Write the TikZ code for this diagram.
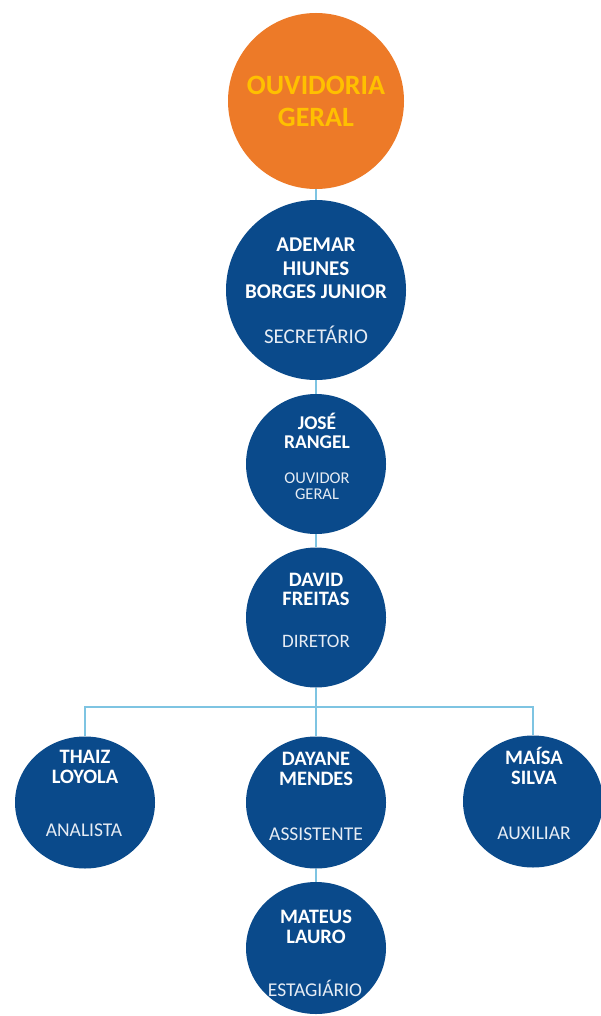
\documentclass[tikz,border=0pt]{standalone}
\usepackage{fontspec}
\setmainfont{Carlito}
\usetikzlibrary{shapes.geometric}
\definecolor{chartblue}{HTML}{0A4A8B}
\definecolor{chartorange}{HTML}{ED7A28}
\definecolor{chartgold}{HTML}{FFC000}
\definecolor{linkblue}{HTML}{7EC4E2}
\definecolor{rolegray}{HTML}{E6ECF4}

\begin{document}
\begin{tikzpicture}[
    x=1pt, y=-1pt,
    bluecircle/.style={circle, fill=chartblue, inner sep=0pt},
    lowunit/.style={ellipse, fill=chartblue, inner sep=0pt,
      minimum width=140pt, minimum height=132pt},
    persname/.style={text=white, align=center, inner sep=0pt},
    roletext/.style={text=rolegray, align=center, inner sep=0pt, anchor=base},
    link/.style={draw=linkblue, line width=2pt}
  ]
  \useasboundingbox (0,0) rectangle (600,1016);
  \fill[white] (0,0) rectangle (600,1016);

  % units
  \node[circle, fill=chartorange, inner sep=0pt, minimum size=176pt] (ouvidoria) at (316,101) {};
  \node[bluecircle, minimum size=180pt] (ademar) at (316,290) {};
  \node[bluecircle, minimum size=140pt] (jose) at (316,464) {};
  \node[bluecircle, minimum size=140pt] (david) at (316,617.5) {};
  \node[lowunit] (thaiz) at (85,802.5) {};
  \node[lowunit] (dayane) at (316,802.5) {};
  \node[lowunit] (maisa) at (533,801.5) {};
  \node[lowunit] (mateus) at (316,948) {};

  % names and roles
  \node[persname, text=chartgold, font=\fontsize{28}{31.3}\selectfont\bfseries]
    (ouvidoria-txt) at (316,101.3) {OUVIDORIA\\GERAL};
  \node[persname, font=\fontsize{21}{23.3}\selectfont\bfseries]
    (ademar-name) at (316,268.3) {ADEMAR\\HIUNES\\BORGES JUNIOR};
  \node[roletext, font=\fontsize{21}{24}\selectfont] (ademar-role) at (316,343.3) {SECRETÁRIO};
  \node[persname, font=\fontsize{19.5}{19}\selectfont\bfseries]
    (jose-name) at (317,430.8) {JOSÉ\\RANGEL};
  \node[roletext, anchor=center, font=\fontsize{16.5}{16}\selectfont]
    (jose-role) at (317,486) {OUVIDOR\\GERAL};
  \node[persname, font=\fontsize{20.5}{19}\selectfont\bfseries]
    (david-name) at (316,589) {DAVID\\FREITAS};
  \node[roletext, font=\fontsize{19}{22}\selectfont] (david-role) at (316,647.3) {DIRETOR};
  \node[persname, font=\fontsize{20.5}{20}\selectfont\bfseries]
    (thaiz-name) at (85,767) {THAIZ\\LOYOLA};
  \node[roletext, font=\fontsize{19.5}{22}\selectfont] (thaiz-role) at (84,836.7) {ANALISTA};
  \node[persname, font=\fontsize{20.5}{20}\selectfont\bfseries]
    (dayane-name) at (316,768.5) {DAYANE\\MENDES};
  \node[roletext, font=\fontsize{19.5}{22}\selectfont] (dayane-role) at (316,840) {ASSISTENTE};
  \node[persname, font=\fontsize{20.5}{20}\selectfont\bfseries]
    (maisa-name) at (534,766) {MAÍSA\\SILVA};
  \node[roletext, font=\fontsize{19.5}{22}\selectfont] (maisa-role) at (534,839) {AUXILIAR};
  \node[persname, font=\fontsize{20.5}{20}\selectfont\bfseries]
    (mateus-name) at (316,926.7) {MATEUS\\LAURO};
  \node[roletext, font=\fontsize{19.5}{22}\selectfont] (mateus-role) at (315,996) {ESTAGIÁRIO};

  % connectors
  \coordinate (branch) at (316,707);
  \draw[link] (ouvidoria) -- (ademar);
  \draw[link] (ademar) -- (jose);
  \draw[link] (jose) -- (david);
  \draw[link] (david) -- (branch);
  \draw[link] (thaiz) |- (branch) -| (maisa);
  \draw[link] (branch) -- (dayane);
  \draw[link] (dayane) -- (mateus);
\end{tikzpicture}
\end{document}
